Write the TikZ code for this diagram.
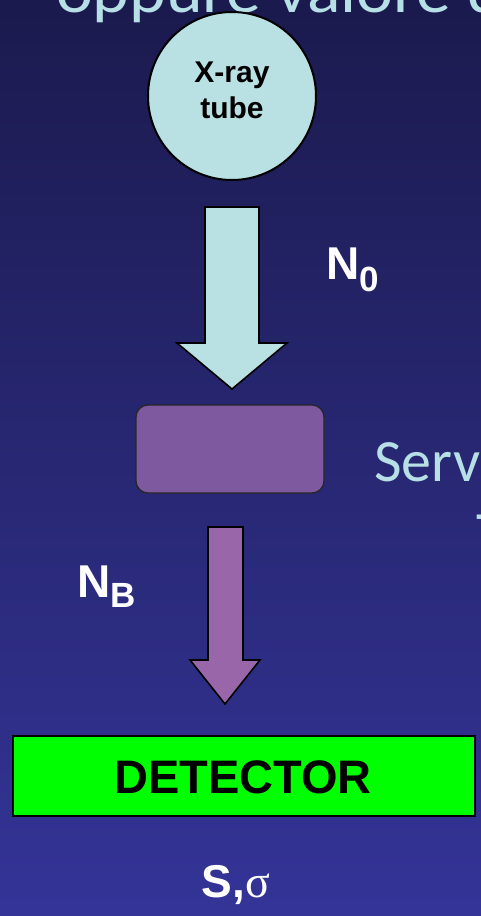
\documentclass[tikz,border=0pt]{standalone}
\usepackage{fontspec}
\setmainfont{Liberation Sans}
\newfontfamily\lightfont{Carlito}
\newfontfamily\greekfont{Liberation Serif}
\definecolor{bgtop}{RGB}{27,26,78}
\definecolor{bgbot}{RGB}{52,52,152}
\definecolor{tubefill}{RGB}{185,224,227}
\definecolor{lighttext}{RGB}{183,223,230}
\definecolor{filterfill}{RGB}{127,89,160}
\definecolor{arrowpurple}{RGB}{153,102,170}
\definecolor{detgreen}{RGB}{0,255,0}
\tikzset{
  blockarrow/.style={draw=black, line width=1.6pt, line join=miter},
  labeltext/.style={text=white, inner sep=0pt, font=\bfseries},
  lighttxt/.style={text=lighttext, inner sep=0pt, anchor=base west},
}
\begin{document}
\begin{tikzpicture}[x=1pt,y=-1pt]
\useasboundingbox (0,0) rectangle (481,916);
\clip (0,0) rectangle (481,916);
\shade[top color=bgtop, bottom color=bgbot] (0,0) rectangle (481,916);

% cut-off title and side text
\node[lighttxt] (title) at (56,12) {\lightfont\fontsize{64}{64}\selectfont\scalebox{1.09}[1]{oppure valore d}};
\node[lighttxt] (serve) at (374,481) {\lightfont\fontsize{60}{60}\selectfont Serve};
\node[lighttxt] (serve2) at (476,553) {\lightfont\fontsize{60}{60}\selectfont T};

% X-ray tube
\node[circle, draw=black, line width=2pt, fill=tubefill, minimum size=168pt, inner sep=0pt] (tube) at (232,96) {};
\node[inner sep=0pt, anchor=base, font=\bfseries\fontsize{30}{30}\selectfont] (tubeA) at (232,82) {X-ray};
\node[inner sep=0pt, anchor=base, font=\bfseries\fontsize{30}{30}\selectfont] (tubeB) at (232,118) {tube};

% arrow N0
\draw[blockarrow, fill=tubefill] (205,207) -- (259,207) -- (259,343) -- (287,343) -- (232,389) -- (177,343) -- (205,343) -- cycle;
\node[labeltext, anchor=base west] (n0) at (326,279) {\fontsize{46}{46}\selectfont N\raisebox{-12pt}{\fontsize{35}{35}\selectfont 0}};

% filter
\node[draw=black!85, line width=1.3pt, rounded corners=12pt, fill=filterfill, minimum width=188pt, minimum height=88pt, inner sep=0pt] (filter) at (230,449) {};

% arrow NB
\draw[blockarrow, fill=arrowpurple] (208,527) -- (243,527) -- (243,660) -- (260,660) -- (225,704) -- (190,660) -- (208,660) -- cycle;
\node[labeltext, anchor=base west] (nb) at (77,597) {\fontsize{46}{46}\selectfont N\raisebox{-10pt}{\fontsize{35}{35}\selectfont B}};

% detector
\node[draw=black, line width=2pt, fill=detgreen, minimum width=462pt, minimum height=80pt, inner sep=0pt] (det) at (244,776) {};
\node[inner sep=0pt, anchor=base, font=\bfseries\fontsize{47}{47}\selectfont] (detlabel) at (243,793) {DETECTOR};

% output
\node[labeltext, anchor=base] (out) at (236,897) {\fontsize{46}{46}\selectfont S,{\greekfont\mdseries σ}};
\end{tikzpicture}
\end{document}
